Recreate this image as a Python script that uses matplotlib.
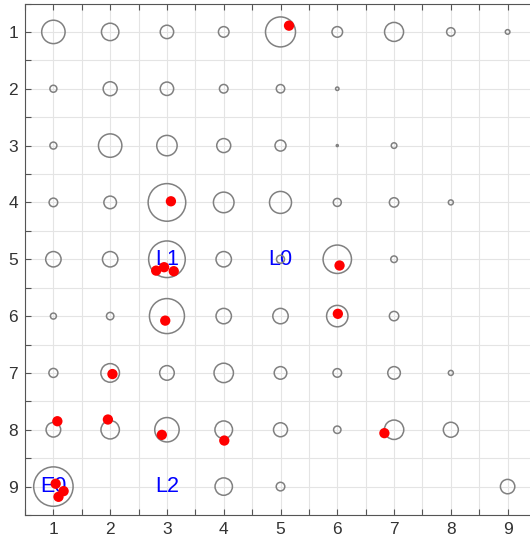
import numpy as np
import matplotlib
matplotlib.use("Agg")
import matplotlib.pyplot as plt
from matplotlib.ticker import MultipleLocator

plt.rcParams['font.family'] = ['Liberation Sans', 'DejaVu Sans']

# bubble radius per grid cell (row = y 1..9, column = x 1..9), 0 = no bubble
radius = [
    [11.7, 8.7, 6.7, 5.3, 15.0, 5.3, 9.5, 4.2, 2.3],
    [3.5, 7.0, 6.7, 4.3, 4.2, 1.7, 0, 0, 0],
    [3.5, 11.7, 10.2, 7.0, 5.5, 1.0, 2.8, 0, 0],
    [4.3, 6.3, 18.8, 10.3, 11.0, 4.0, 4.7, 2.5, 0],
    [7.7, 7.7, 18.3, 7.7, 4.0, 14.2, 3.3, 0, 0],
    [3.0, 3.7, 17.5, 7.7, 7.7, 10.7, 4.7, 0, 0],
    [4.5, 9.3, 7.3, 9.7, 6.3, 4.3, 6.3, 2.5, 0],
    [7.3, 9.2, 12.2, 8.8, 7.0, 3.7, 9.7, 7.5, 0],
    [19.7, 0, 0, 8.7, 4.3, 0, 0, 0, 7.2],
]

# red points
red_x = [5.15, 3.07, 2.81, 2.95, 3.12, 6.04, 2.97, 6.01, 2.04,
         1.07, 1.96, 2.91, 4.01, 6.83, 1.04, 1.18, 1.09]
red_y = [0.89, 3.98, 5.20, 5.14, 5.21, 5.11, 6.08, 5.96, 7.02,
         7.85, 7.82, 8.09, 8.19, 8.06, 8.95, 9.08, 9.18]

# labels
lab_text = ['L0', 'L1', 'L2', 'E0']
lab_x = [5, 3, 3, 1]
lab_y = [5, 5, 9, 9]

fig = plt.figure(figsize=(5.3, 5.38), dpi=100)
ax = fig.add_axes([25 / 530, 23 / 538, 511 / 530, 511.5 / 538])

r = np.array(radius)
yy, xx = np.nonzero(r > 0)
rr = r[yy, xx]
ax.scatter(xx + 1, yy + 1, s=(1.44 * rr) ** 2, facecolors='none',
           edgecolors='#808080', linewidths=1.1, zorder=3)

for t, x, y in zip(lab_text, lab_x, lab_y):
    ax.text(x, y, t, color='blue', fontsize=15.5, ha='center', va='center', zorder=2)

ax.scatter(red_x, red_y, s=55, color='red', edgecolors='none', zorder=4)

ax.set_xlim(0.5, 9.5)
ax.set_ylim(9.5, 0.5)
ax.xaxis.set_major_locator(MultipleLocator(1))
ax.yaxis.set_major_locator(MultipleLocator(1))
ax.xaxis.set_minor_locator(MultipleLocator(0.5))
ax.yaxis.set_minor_locator(MultipleLocator(0.5))
ax.grid(True, which='both', color='#e4e4e4', linewidth=0.8, zorder=0)
ax.set_axisbelow(True)
ax.tick_params(which='both', direction='in', top=True, right=True,
               length=4, width=0.8, color='#555555', labelsize=12.5,
               labelcolor='#333333')
ax.tick_params(which='major', pad=5)
for s in ax.spines.values():
    s.set_color('#555555')
    s.set_linewidth(0.8)

fig.savefig('out.png', dpi=100)
